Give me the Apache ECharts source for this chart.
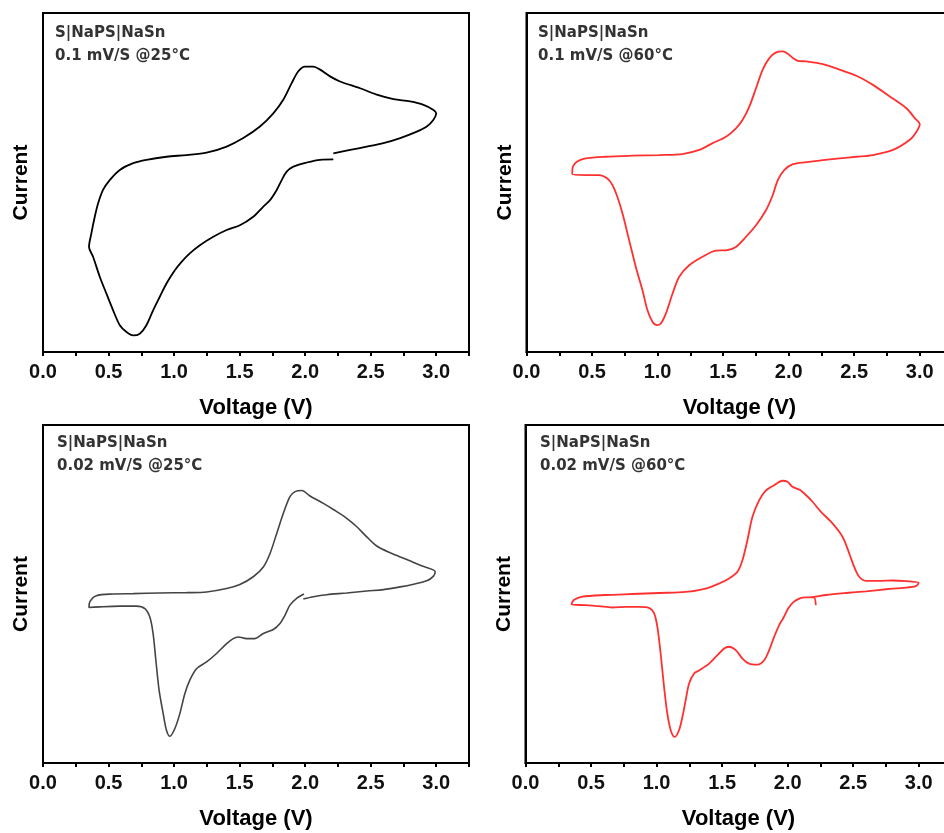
<!DOCTYPE html>
<html>
<head>
<meta charset="utf-8">
<script src="https://cdn.jsdelivr.net/npm/echarts@6/dist/echarts.min.js"></script>
<style>
  html, body { margin: 0; padding: 0; background: #fff; }
  #main { width: 944px; height: 833px; }
</style>
</head>
<body>
<div id="main"></div>
<script>
// voltage (V) and current (a.u., 0 = bottom of frame, 100 = top)
const v1 = [2.215, 2.114, 2.012, 1.910, 1.859, 1.821, 1.783, 1.732, 1.681, 1.604, 1.502, 1.401, 1.299, 1.197, 1.120, 1.057, 1.006, 0.942, 0.891, 0.840, 0.789, 0.738, 0.688, 0.637, 0.586, 0.535, 0.484, 0.433, 0.382, 0.351, 0.369, 0.395, 0.420, 0.458, 0.509, 0.586, 0.688, 0.789, 0.942, 1.095, 1.248, 1.401, 1.528, 1.655, 1.757, 1.833, 1.897, 1.948, 1.999, 2.063, 2.114, 2.190, 2.266, 2.419, 2.546, 2.674, 2.801, 2.903, 2.979, 3.000, 2.979, 2.928, 2.852, 2.725, 2.597, 2.470, 2.343, 2.215];
const i1 = [56.8, 56.7, 55.9, 54.7, 53.2, 50.7, 47.8, 44.8, 42.9, 39.9, 37.4, 36.0, 34.0, 31.5, 29.1, 26.6, 24.1, 20.2, 16.3, 12.3, 7.9, 5.4, 4.9, 5.9, 7.9, 12.3, 17.2, 22.2, 28.1, 31.0, 35.0, 39.9, 43.8, 47.8, 50.7, 53.7, 55.7, 56.7, 57.6, 58.1, 58.8, 60.6, 63.1, 66.5, 70.4, 74.4, 79.3, 82.8, 84.2, 84.2, 83.3, 81.3, 79.8, 77.8, 75.9, 74.6, 73.9, 72.9, 71.4, 70.4, 68.5, 66.5, 65.0, 63.1, 61.6, 60.6, 59.6, 58.6];

const v2 = [2.261, 2.134, 2.032, 1.968, 1.917, 1.879, 1.828, 1.751, 1.675, 1.598, 1.522, 1.445, 1.343, 1.241, 1.165, 1.114, 1.063, 1.025, 0.994, 0.961, 0.923, 0.885, 0.834, 0.783, 0.732, 0.693, 0.655, 0.617, 0.553, 0.451, 0.349, 0.354, 0.387, 0.451, 0.604, 0.808, 1.012, 1.190, 1.318, 1.420, 1.522, 1.598, 1.649, 1.700, 1.751, 1.802, 1.853, 1.904, 1.955, 1.993, 2.032, 2.070, 2.134, 2.261, 2.388, 2.516, 2.643, 2.771, 2.898, 2.962, 3.000, 2.975, 2.924, 2.796, 2.643, 2.516, 2.388, 2.261];
const i2 = [56.6, 56.0, 55.4, 53.7, 50.7, 46.3, 41.9, 37.4, 34.0, 31.0, 30.0, 29.9, 28.1, 25.6, 22.2, 17.2, 11.3, 8.4, 7.9, 8.9, 12.3, 18.2, 25.1, 33.0, 40.9, 45.8, 49.3, 51.2, 52.2, 52.2, 52.5, 54.7, 56.2, 57.1, 57.6, 57.9, 58.1, 58.4, 59.6, 61.6, 63.5, 66.0, 68.5, 72.4, 77.8, 83.3, 86.7, 88.4, 88.7, 88.0, 86.7, 85.9, 85.7, 84.9, 83.3, 81.5, 78.8, 75.4, 71.9, 69.0, 67.2, 65.0, 62.6, 59.6, 58.1, 57.6, 57.1, 56.6];

const v3 = [1.991, 1.935, 1.884, 1.846, 1.808, 1.757, 1.681, 1.617, 1.553, 1.490, 1.451, 1.401, 1.324, 1.248, 1.171, 1.120, 1.082, 1.044, 1.006, 0.968, 0.942, 0.917, 0.886, 0.861, 0.840, 0.815, 0.777, 0.713, 0.586, 0.433, 0.351, 0.357, 0.407, 0.535, 0.688, 0.891, 1.095, 1.248, 1.401, 1.502, 1.604, 1.681, 1.732, 1.783, 1.833, 1.884, 1.923, 1.974, 2.037, 2.139, 2.215, 2.317, 2.394, 2.470, 2.546, 2.648, 2.776, 2.878, 2.992, 2.979, 2.928, 2.827, 2.725, 2.597, 2.470, 2.317, 2.165, 2.063, 1.986];
const i3 = [50.0, 48.7, 46.7, 43.7, 41.3, 39.5, 38.3, 36.8, 36.8, 37.3, 36.8, 35.3, 32.4, 29.9, 27.9, 24.5, 20.5, 14.6, 10.2, 7.9, 9.7, 14.6, 21.5, 30.4, 38.3, 43.2, 45.7, 46.4, 46.4, 46.2, 46.0, 47.7, 49.5, 50.0, 50.1, 50.3, 50.4, 50.6, 51.6, 52.8, 55.1, 58.0, 62.0, 67.9, 73.8, 78.8, 80.3, 80.6, 79.0, 76.8, 75.0, 72.4, 69.9, 66.9, 64.2, 62.2, 60.2, 58.5, 56.6, 55.3, 53.9, 52.9, 52.1, 51.3, 50.9, 50.3, 49.8, 49.2, 48.5];

const v4 = [2.215, 2.200, 2.139, 2.097, 2.044, 2.005, 1.967, 1.935, 1.897, 1.859, 1.821, 1.770, 1.706, 1.655, 1.604, 1.553, 1.515, 1.464, 1.401, 1.324, 1.286, 1.248, 1.222, 1.197, 1.171, 1.138, 1.108, 1.082, 1.057, 1.031, 1.006, 0.980, 0.942, 0.866, 0.764, 0.662, 0.560, 0.458, 0.351, 0.369, 0.433, 0.611, 0.815, 1.019, 1.222, 1.375, 1.477, 1.553, 1.617, 1.655, 1.693, 1.732, 1.783, 1.833, 1.897, 1.961, 1.999, 2.037, 2.088, 2.139, 2.190, 2.254, 2.330, 2.394, 2.432, 2.470, 2.508, 2.546, 2.597, 2.699, 2.801, 2.903, 3.000, 2.979, 2.878, 2.750, 2.597, 2.445, 2.292, 2.215, 2.170];
const i4 = [46.7, 49.0, 49.0, 48.8, 47.6, 45.8, 42.9, 40.8, 37.3, 33.4, 30.4, 29.1, 29.4, 30.9, 33.4, 34.4, 33.9, 31.9, 29.4, 27.4, 26.5, 23.5, 18.6, 13.6, 9.7, 7.7, 9.7, 14.6, 22.5, 32.4, 40.3, 44.4, 45.9, 46.2, 46.2, 46.0, 46.4, 46.7, 47.0, 48.2, 49.2, 49.7, 50.0, 50.3, 50.6, 51.6, 53.1, 54.6, 56.6, 60.0, 65.9, 72.9, 77.8, 80.6, 82.2, 83.5, 83.2, 81.7, 80.9, 79.3, 77.3, 74.3, 71.4, 68.4, 65.9, 62.0, 58.0, 55.1, 53.9, 53.9, 54.0, 53.8, 53.3, 52.3, 51.8, 51.4, 50.8, 50.3, 49.7, 49.2, 49.0];

const titles = ['S|NaPS|NaSn', 'S|NaPS|NaSn', 'S|NaPS|NaSn', 'S|NaPS|NaSn'];
const rates = ['0.1 mV/S @25°C', '0.1 mV/S @60°C', '0.02 mV/S @25°C', '0.02 mV/S @60°C'];

const panels = [
  { left: 43, top: 13, height: 339, color: '#000000', width: 1.8, v: v1, i: i1, tx: 55, ty: 35 },
  { left: 526.5, top: 13, height: 339, color: '#ff3030', width: 1.8, v: v2, i: i2, tx: 538, ty: 35 },
  { left: 43, top: 425, height: 338, color: '#444444', width: 1.6, v: v3, i: i3, tx: 57, ty: 445 },
  { left: 525.5, top: 425, height: 338, color: '#ff3030', width: 1.8, v: v4, i: i4, tx: 540, ty: 445 }
];

const FONT = 'Liberation Sans, Arial, sans-serif';

let chart = echarts.init(document.getElementById('main'), null, { renderer: 'canvas' });

let grids = [], xAxes = [], yAxes = [], series = [], graphics = [];
panels.forEach((p, k) => {
  grids.push({
    left: p.left, top: p.top, width: 426, height: p.height,
    outerBoundsMode: 'none', containLabel: false,
    show: true, borderColor: '#000', borderWidth: 2, backgroundColor: 'transparent'
  });
  xAxes.push({
    type: 'value', gridIndex: k, min: 0, max: 3.25, interval: 0.25,
    name: 'Voltage (V)', nameLocation: 'middle', nameGap: 45,
    nameTextStyle: { fontFamily: FONT, fontWeight: 'bold', fontSize: 22, color: '#000' },
    axisLine: { show: true, onZero: false, lineStyle: { color: '#000', width: 2 } },
    axisTick: { show: true, inside: false, length: 4, lineStyle: { color: '#000', width: 2 } },
    axisLabel: {
      margin: 10, fontFamily: FONT, fontWeight: 'bold', fontSize: 20, color: '#111',
      formatter: val => Math.abs(val * 2 - Math.round(val * 2)) < 1e-6 ? val.toFixed(1) : ''
    },
    splitLine: { show: false }
  });
  yAxes.push({
    type: 'value', gridIndex: k, min: 0, max: 100,
    name: 'Current', nameLocation: 'middle', nameGap: 11, nameRotate: 90,
    nameTextStyle: { fontFamily: FONT, fontWeight: 'bold', fontSize: 21, color: '#000' },
    axisLine: { show: true, onZero: false, lineStyle: { color: '#000', width: 2 } },
    axisTick: { show: false },
    axisLabel: { show: false },
    splitLine: { show: false }
  });
  series.push({
    type: 'line', xAxisIndex: k, yAxisIndex: k,
    data: p.v.map((x, j) => [x, p.i[j]]),
    showSymbol: false, smooth: 0.3,
    lineStyle: { color: p.color, width: p.width },
    silent: true
  });
  graphics.push({
    type: 'text', left: p.tx, top: p.ty - 9,
    style: { text: titles[k], font: 'bold 15px "DejaVu Sans"', fill: '#333' }
  });
  graphics.push({
    type: 'text', left: p.tx, top: p.ty + 14,
    style: { text: rates[k], font: 'bold 15px "DejaVu Sans"', fill: '#333' }
  });
});

chart.setOption({
  backgroundColor: '#fff',
  animation: false,
  grid: grids,
  xAxis: xAxes,
  yAxis: yAxes,
  series: series,
  graphic: graphics
});
</script>
</body>
</html>
